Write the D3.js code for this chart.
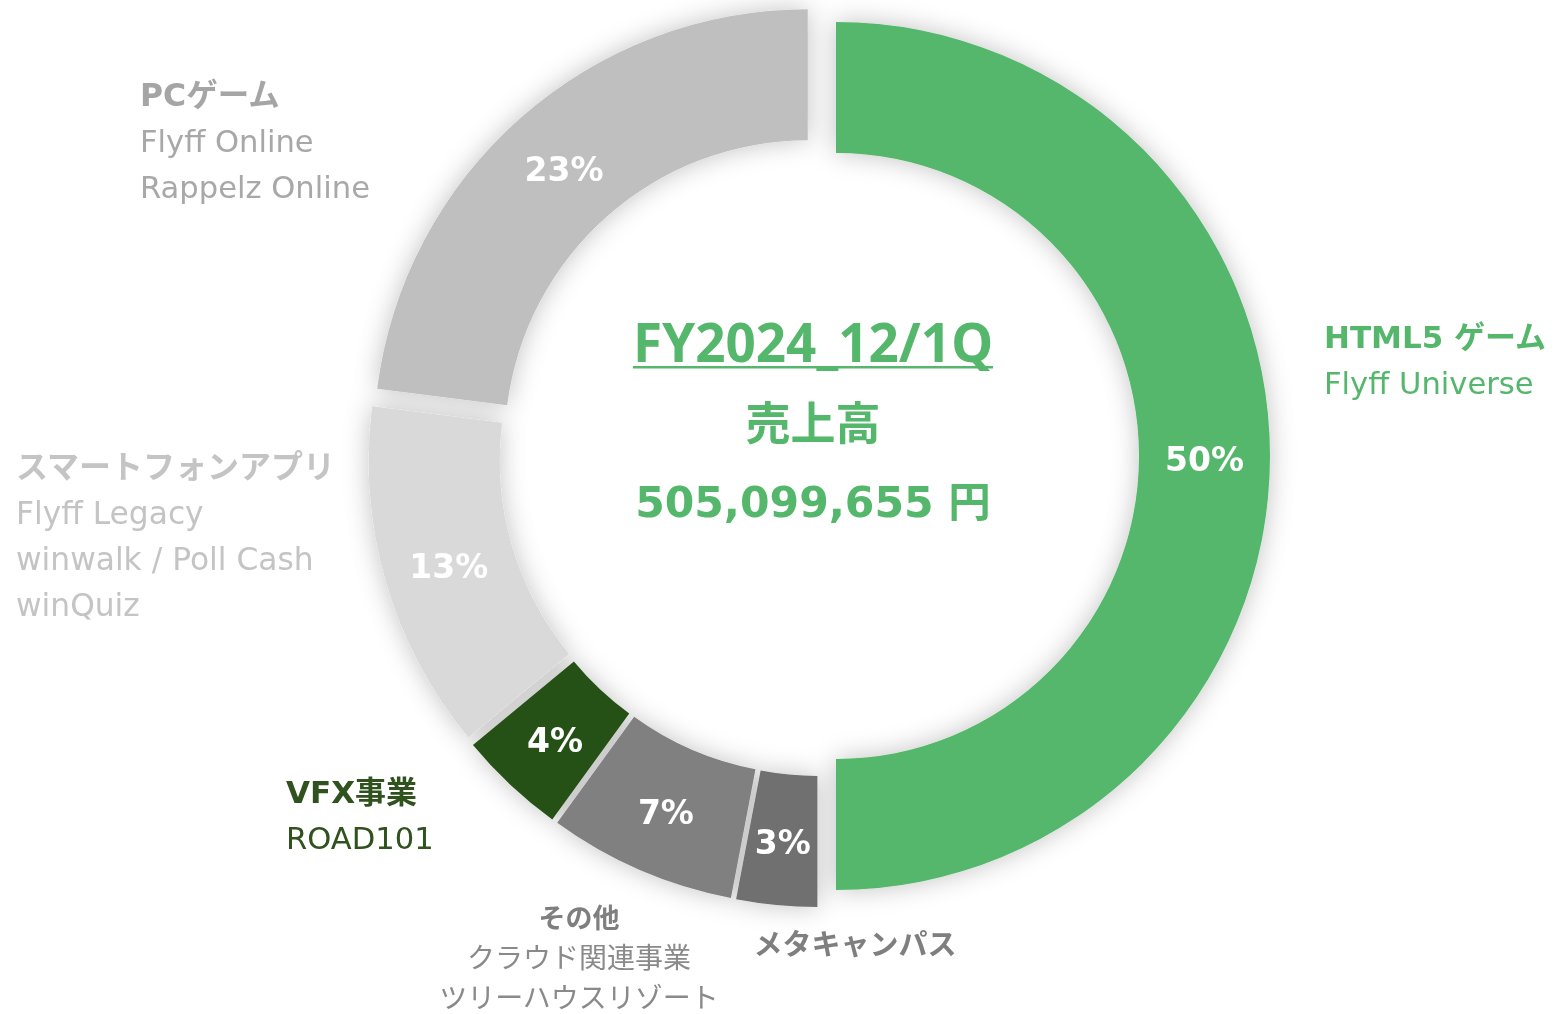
<!DOCTYPE html>
<html><head><meta charset="utf-8">
<script src="https://cdn.jsdelivr.net/npm/d3@7"></script>
<style>
html,body{margin:0;padding:0;background:#fff;}
svg{display:block;}
</style></head>
<body>
<svg id="chart" width="1554" height="1014"></svg>
<script>
// ---- data ----
const categories = ["HTML5 ゲーム","メタキャンパス","その他","VFX事業","スマートフォンアプリ","PCゲーム"];
const shares = [50,3,7,4,13,23];
const percentLabels = ["50%","3%","7%","4%","13%","23%"];
const subItems = [
  ["Flyff Universe"],
  [],
  ["クラウド関連事業","ツリーハウスリゾート"],
  ["ROAD101"],
  ["Flyff Legacy","winwalk / Poll Cash","winQuiz"],
  ["Flyff Online","Rappelz Online"]
];
const centerTitle = "FY2024_12/1Q";
const centerSubtitle = "売上高";
const centerAmount = "505,099,655 円";

// ---- styles / layout ----
const sliceColors = ["#54b76c","#6f6f6f","#808080","#285119","#d9d9d9","#bfbfbf"];
const titleColors = ["#54b76c","#7f7f7f","#7f7f7f","#30521f","#c4c4c4","#a5a5a5"];
const itemColors  = ["#54b76c","#7f7f7f","#8a8a8a","#30521f","#c4c4c4","#a8a8a8"];
const labelLayout = [
  {x:1324, y:348, anchor:"start", size:31, sub:30.6, lh:46},
  {x:855,  y:955, anchor:"middle", size:29, sub:28, lh:40},
  {x:579,  y:928, anchor:"middle", size:27, sub:28, lh:40},
  {x:286,  y:803, anchor:"start", size:31, sub:30.6, lh:46},
  {x:16,   y:478, anchor:"start", size:32, sub:31.3, lh:46},
  {x:140,  y:106, anchor:"start", size:31.5, sub:30.6, lh:46}
];
const cx = 819, cy = 456, outerR = 434, innerR = 303, explode = 17;
const latin = "'DejaVu Sans','Noto Sans CJK JP',sans-serif";

const svg = d3.select("#chart");
const defs = svg.append("defs");
const f = defs.append("filter").attr("id","glow")
  .attr("x","-20%").attr("y","-20%").attr("width","140%").attr("height","140%");
f.append("feGaussianBlur").attr("in","SourceAlpha").attr("stdDeviation",13).attr("result","b");
f.append("feFlood").attr("flood-color","#000").attr("flood-opacity",0.24).attr("result","c");
f.append("feComposite").attr("in","c").attr("in2","b").attr("operator","in").attr("result","s");
const m = f.append("feMerge");
m.append("feMergeNode").attr("in","s");
m.append("feMergeNode").attr("in","SourceGraphic");

const data = categories.map((c,i)=>({cat:c, v:shares[i], i}));
const pie = d3.pie().sort(null).value(d=>d.v).startAngle(0).endAngle(2*Math.PI);
const arc = d3.arc().innerRadius(innerR).outerRadius(outerR);
const arcs = pie(data);

const offset = a => { const m=(a.startAngle+a.endAngle)/2; return [explode*Math.sin(m), -explode*Math.cos(m)]; };

const g = svg.append("g").attr("transform",`translate(${cx},${cy})`);
const donut = g.append("g").attr("filter","url(#glow)");
donut.selectAll("path").data(arcs).join("path")
  .attr("d",arc)
  .attr("transform",d=>{const o=offset(d);return `translate(${o[0]},${o[1]})`;})
  .attr("fill",d=>sliceColors[d.data.i]);

g.selectAll("text.pct").data(arcs).join("text").attr("class","pct")
  .attr("transform",d=>{const c=arc.centroid(d),o=offset(d);return `translate(${c[0]+o[0]},${c[1]+o[1]+3})`;})
  .attr("text-anchor","middle").attr("dominant-baseline","central")
  .attr("font-family",latin).attr("font-weight","bold").attr("font-size",33)
  .attr("fill","#fff").text(d=>percentLabels[d.data.i]);

// category labels
data.forEach((d,i)=>{
  const L = labelLayout[i];
  const t = svg.append("g");
  t.append("text").attr("x",L.x).attr("y",L.y).attr("text-anchor",L.anchor)
    .attr("font-family",latin).attr("font-weight","bold").attr("font-size",L.size)
    .attr("fill",titleColors[i]).text(d.cat);
  subItems[i].forEach((s,k)=>{
    t.append("text").attr("x",L.x).attr("y",L.y+L.lh*(k+1)).attr("text-anchor",L.anchor)
      .attr("font-family",latin).attr("font-size",L.sub)
      .attr("fill",itemColors[i]).text(s);
  });
});

// center text
const green = "#54b76c";
const ccx = 813;
const t1 = svg.append("text").attr("x",ccx).attr("y",362).attr("text-anchor","middle")
  .attr("font-family","'Noto Sans','Noto Sans CJK JP',sans-serif").attr("font-weight","bold")
  .attr("font-size",53).attr("fill",green).text(centerTitle);
const bb = t1.node().getBBox();
svg.append("rect").attr("x",bb.x).attr("y",366).attr("width",bb.width).attr("height",2.5).attr("fill",green);
svg.append("text").attr("x",ccx).attr("y",440).attr("text-anchor","middle")
  .attr("font-family","'Noto Sans CJK JP',sans-serif").attr("font-weight","bold")
  .attr("font-size",45).attr("fill",green).text(centerSubtitle);
svg.append("text").attr("x",ccx).attr("y",517).attr("text-anchor","middle")
  .attr("font-family",latin).attr("font-weight","bold")
  .attr("font-size",42.5).attr("fill",green).text(centerAmount);
</script>
</body></html>
